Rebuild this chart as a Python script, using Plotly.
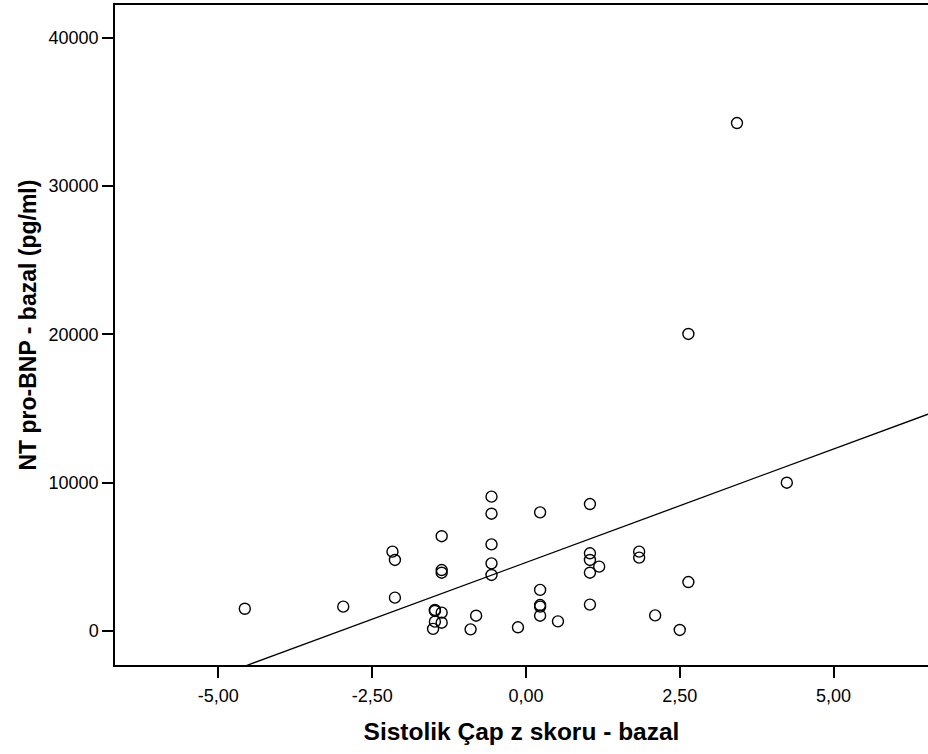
import plotly.graph_objects as go

# Sistolik Çap z skoru - bazal
z_score = [-4.57, -2.97, -2.17, -2.13, -2.13, -1.37, -1.37, -1.37,
           -1.48, -1.48, -1.37, -1.48, -1.37, -1.51, -0.81, -0.90,
           -0.56, -0.56, -0.56, -0.56, -0.56, -0.13,
           0.23, 0.23, 0.23, 0.23, 0.23, 0.52,
           1.04, 1.04, 1.04, 1.04, 1.19, 1.04, 1.84, 1.84,
           2.10, 2.50, 2.64, 2.64, 3.43, 4.24]
# NT pro-BNP - bazal (pg/ml)
ntprobnp = [1500, 1640, 5350, 4790, 2250, 6390, 4110, 3930,
            1420, 1350, 1240, 630, 560, 140, 1030, 110,
            9060, 7910, 5840, 4560, 3780, 250,
            8000, 2770, 1750, 1640, 1030, 650,
            8560, 5240, 4790, 3930, 4340, 1780, 5350, 4950,
            1050, 70, 3300, 20030, 34250, 10000]

# Linear fit line
fit_intercept = 4620
fit_slope = 1530

x_range = [-6.68, 6.535]
y_range = [-2293, 42210]

x_tickvals = [-5, -2.5, 0, 2.5, 5]
x_ticktext = ["-5,00", "-2,50", "0,00", "2,50", "5,00"]
y_tickvals = [0, 10000, 20000, 30000, 40000]
y_ticktext = ["0", "10000", "20000", "30000", "40000"]

x_title = "Sistolik Çap z skoru - bazal"
y_title = "NT pro-BNP - bazal (pg/ml)"

FONT = "Liberation Sans, Arial, sans-serif"

fig = go.Figure()
fig.add_trace(go.Scatter(
    x=x_range,
    y=[fit_intercept + fit_slope * v for v in x_range],
    mode="lines",
    line=dict(color="black", width=1.3),
    hoverinfo="skip",
    showlegend=False,
))
fig.add_trace(go.Scatter(
    x=z_score, y=ntprobnp, mode="markers",
    marker=dict(symbol="circle-open", size=11, color="black",
                line=dict(color="black", width=1.4)),
    showlegend=False,
))

fig.update_layout(
    width=928, height=754,
    margin=dict(l=115, r=0, t=5, b=89),
    paper_bgcolor="white", plot_bgcolor="white",
    font=dict(family=FONT, size=18, color="black"),
    xaxis=dict(
        range=x_range, tickvals=x_tickvals, ticktext=x_ticktext,
        showgrid=False, zeroline=False,
        showline=True, linecolor="black", linewidth=1.5, mirror=True,
        ticks="outside", ticklen=11, tickwidth=1.5, tickcolor="black",
        ticklabelstandoff=3,
        tickfont=dict(size=18, family=FONT),
        title=dict(text="<b>" + x_title + "</b>",
                   font=dict(size=24.5, family=FONT), standoff=18),
    ),
    yaxis=dict(
        range=y_range, tickvals=y_tickvals, ticktext=y_ticktext,
        showgrid=False, zeroline=False,
        showline=True, linecolor="black", linewidth=1.5, mirror=False,
        ticks="outside", ticklen=11, tickwidth=1.5, tickcolor="black",
        tickfont=dict(size=18, family=FONT),
    ),
    annotations=[dict(
        text="<b>" + y_title + "</b>",
        textangle=-90, showarrow=False,
        xref="paper", yref="paper",
        x=(27 - 115) / 813, y=(665 - 325.5) / 660,
        xanchor="center", yanchor="middle",
        font=dict(size=23, family=FONT, color="black"),
    )],
)

fig.write_html("out.html")
